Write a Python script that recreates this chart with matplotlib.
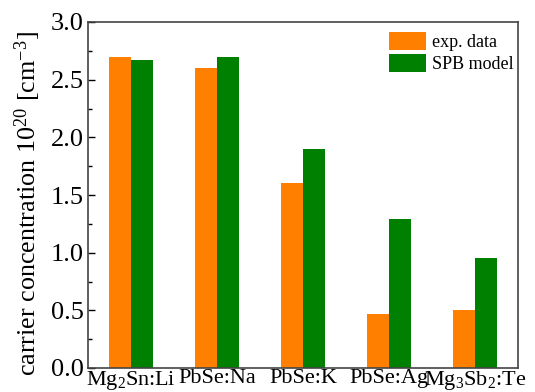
import matplotlib
matplotlib.use("Agg")
import matplotlib.pyplot as plt
import numpy as np
from matplotlib.ticker import MultipleLocator

plt.rcParams["font.family"] = "Liberation Serif"
plt.rcParams["mathtext.fontset"] = "custom"
plt.rcParams["mathtext.rm"] = "Liberation Serif"
plt.rcParams["mathtext.it"] = "Liberation Serif:italic"

# carrier concentration, units of 1e20 cm^-3
samples = ["Mg$_2$Sn:Li", "PbSe:Na", "PbSe:K", "PbSe:Ag", "Mg$_3$Sb$_2$:Te"]
exp_data = [2.70, 2.60, 1.60, 0.47, 0.50]
spb_model = [2.67, 2.70, 1.90, 1.29, 0.95]

ORANGE = "#FF8000"
GREEN = "#008000"

fig = plt.figure(figsize=(5.35, 3.92), dpi=100)
ax = fig.add_axes([88 / 535, 1 - 368 / 392, 430 / 535, 346 / 392])

x = np.arange(len(samples))
width = 0.256
ax.bar(x - width / 2, exp_data, width, color=ORANGE, label="exp. data")
ax.bar(x + width / 2, spb_model, width, color=GREEN, label="SPB model")

ax.set_xlim(-0.5, 4.5)
ax.set_ylim(0, 3.0)
ax.set_xticks(x)
ax.set_xticklabels(samples, fontsize=16)
ax.yaxis.set_major_locator(MultipleLocator(0.5))
ax.yaxis.set_minor_locator(MultipleLocator(0.25))
ax.tick_params(axis="y", which="both", direction="in", labelsize=19, pad=3)
ax.tick_params(axis="y", which="major", length=5, width=1)
ax.tick_params(axis="y", which="minor", length=3, width=1)
ax.tick_params(axis="x", length=0, pad=1)
for s in ax.spines.values():
    s.set_color("#444444")
    s.set_linewidth(1.2)

ax.set_ylabel("carrier concentration 10$^{20}$ [cm$^{-3}$]", fontsize=18.8)
ax.yaxis.set_label_coords(-0.105, 0.475)

ax.legend(loc="upper right", bbox_to_anchor=(1.0, 0.985), frameon=False,
          fontsize=13, handlelength=2.1, handleheight=1.15, handletextpad=0.3,
          labelspacing=0.2, borderaxespad=0.0, borderpad=0.25)

fig.savefig("out.png", dpi=100)
